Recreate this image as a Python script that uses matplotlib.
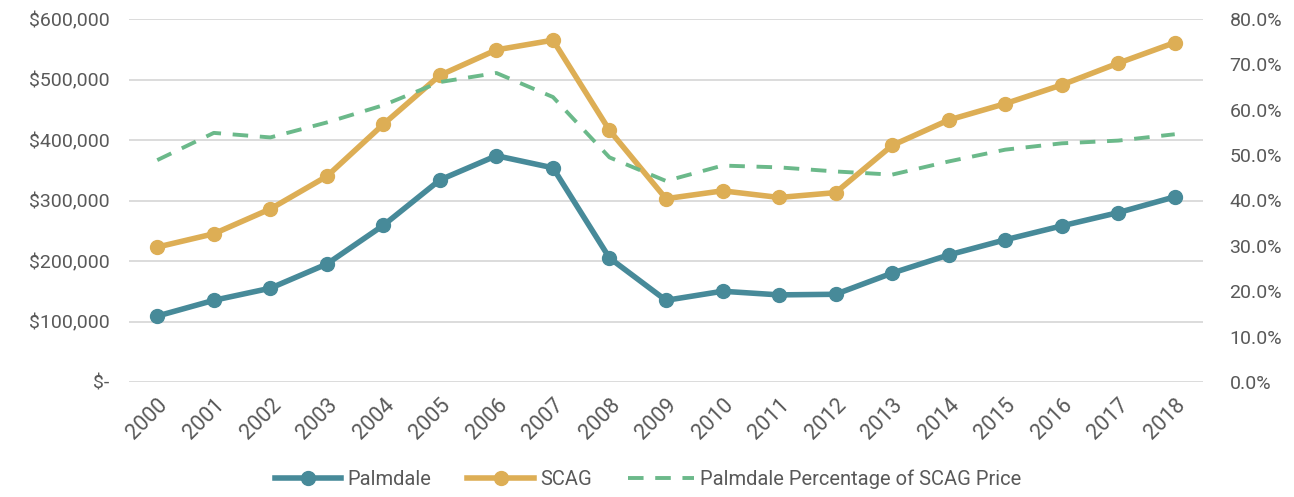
import matplotlib
matplotlib.use("Agg")
import matplotlib.pyplot as plt
from matplotlib.ticker import FuncFormatter, MultipleLocator

years = [str(y) for y in range(2000, 2019)]
palmdale = [109000, 135000, 155000, 195000, 259000, 334000, 374000, 354000, 205000,
            135000, 150000, 144000, 145000, 180000, 210000, 235000, 258000, 280000, 306000]
scag = [223000, 245000, 286000, 340000, 426000, 507000, 549000, 565000, 416000,
        303000, 316000, 305000, 313000, 391000, 433000, 460000, 491000, 527000, 561000]
pct = [48.9, 54.9, 53.9, 57.2, 61.0, 66.1, 68.1, 62.8, 49.5,
       44.3, 47.7, 47.3, 46.4, 45.7, 48.6, 51.2, 52.6, 53.2, 54.6]

C_PAL = "#478A99"
C_SCAG = "#DDAE55"
C_PCT = "#6BB98A"
C_TXT = "#595959"

plt.rcParams["font.family"] = ["Roboto", "DejaVu Sans"]

fig = plt.figure(figsize=(12.94, 4.97), dpi=100)
ax = fig.add_axes([129 / 1294, 115 / 497, 1074 / 1294, 363 / 497])
ax2 = ax.twinx()

x = range(len(years))
ax.plot(x, palmdale, color=C_PAL, lw=4, marker="o", ms=10, label="Palmdale", zorder=3)
ax.plot(x, scag, color=C_SCAG, lw=4, marker="o", ms=10, label="SCAG", zorder=3)
ax2.plot(x, pct, color=C_PCT, lw=2.8, ls=(0, (4, 3)), label="Palmdale Percentage of SCAG Price")

ax.set_xlim(-0.5, len(years) - 0.5)
ax.set_ylim(0, 600000)
ax2.set_ylim(0, 80)
ax.yaxis.set_major_locator(MultipleLocator(100000))
ax2.yaxis.set_major_locator(MultipleLocator(10))
ax.yaxis.set_major_formatter(FuncFormatter(lambda v, p: "$-" if v == 0 else f"${v:,.0f}"))
ax2.yaxis.set_major_formatter(FuncFormatter(lambda v, p: f"{v:.1f}%"))
ax.grid(axis="y", color="#d9d9d9", lw=1.3)
ax.set_axisbelow(True)

ax.set_xticks(list(x))
ax.set_xticklabels(years, rotation=45, ha="right", rotation_mode="anchor")

for a in (ax, ax2):
    for s in a.spines.values():
        s.set_visible(False)
    a.tick_params(length=0, labelsize=14, colors=C_TXT)
ax.tick_params(axis="x", labelsize=15.5, pad=9)
ax.tick_params(axis="y", pad=14)
ax2.tick_params(axis="y", pad=19)

h1, l1 = ax.get_legend_handles_labels()
h2, l2 = ax2.get_legend_handles_labels()
fig.legend(h1 + h2, l1 + l2, loc="lower center", bbox_to_anchor=(0.501, -0.02), ncol=3,
           frameon=False, fontsize=14.5, labelcolor=C_TXT, handlelength=3.3,
           handletextpad=0.3, columnspacing=1.8)

fig.savefig("out.png", dpi=100)
